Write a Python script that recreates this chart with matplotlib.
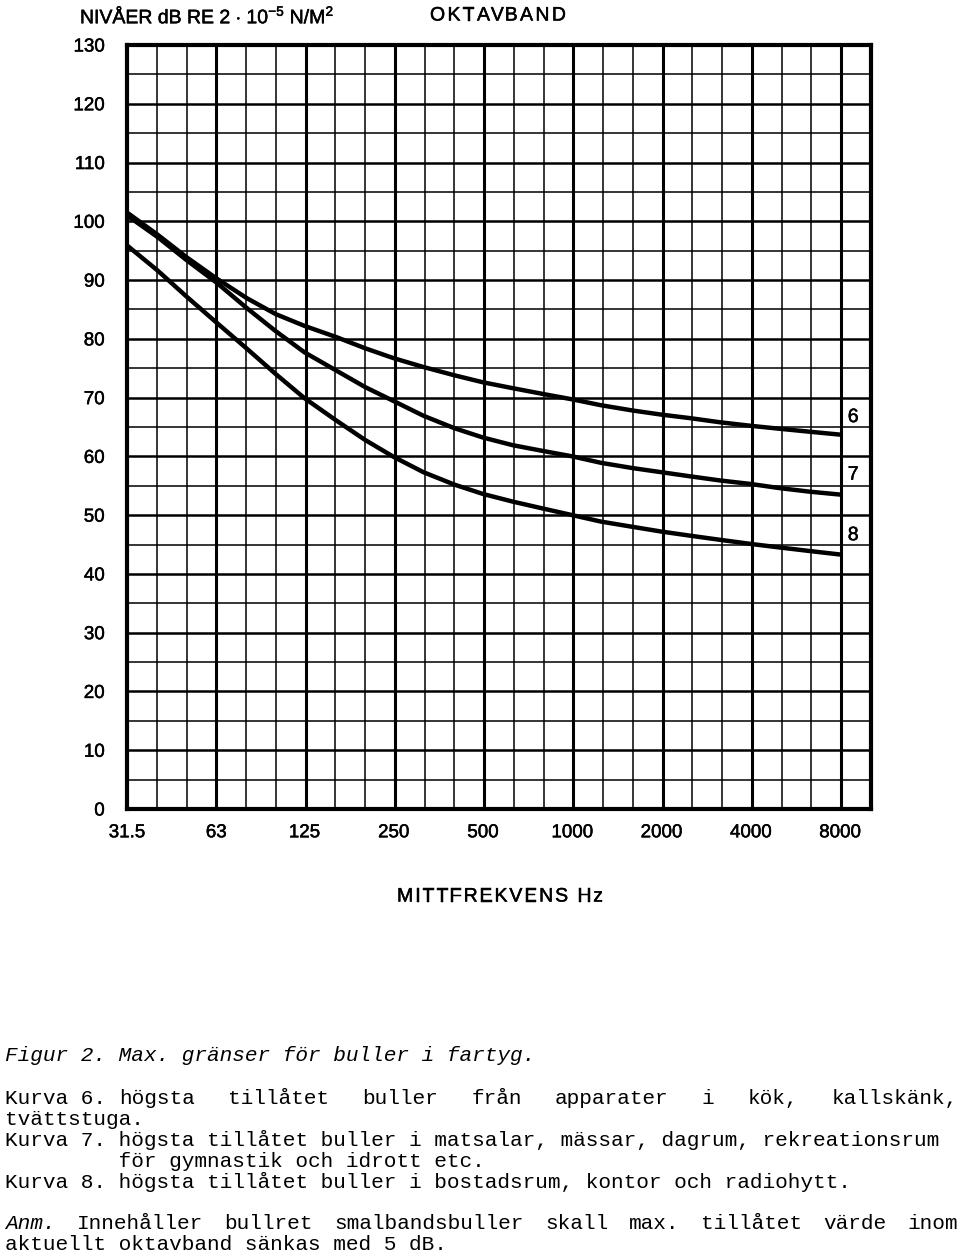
import numpy as np
import matplotlib.pyplot as plt
import matplotlib.patheffects as pe
from matplotlib.ticker import NullLocator, NullFormatter

# --- Data (third-octave positions, dB) ---
freqs = [31.5, 40, 50, 63, 80, 100, 125, 160, 200, 250, 315, 400, 500,
         630, 800, 1000, 1250, 1600, 2000, 2500, 3150, 4000, 5000, 6300, 8000]
kurva6 = [101.5, 97.7, 93.9, 90.3, 86.9, 84.2, 82.2, 80.3, 78.4, 76.7, 75.2, 73.8, 72.6,
          71.6, 70.6, 69.7, 68.7, 67.8, 67.1, 66.5, 65.8, 65.2, 64.7, 64.2, 63.7]
kurva7 = [101.0, 97.3, 93.4, 89.6, 85.2, 81.3, 77.7, 74.6, 71.8, 69.4, 66.9, 64.8, 63.2,
          61.9, 60.9, 60.0, 58.9, 58.0, 57.3, 56.6, 55.9, 55.3, 54.6, 54.0, 53.5]
kurva8 = [95.9, 91.6, 87.2, 82.8, 78.3, 74.0, 69.9, 66.1, 62.8, 59.9, 57.3, 55.2, 53.6,
          52.3, 51.1, 50.0, 48.9, 48.0, 47.2, 46.5, 45.8, 45.1, 44.5, 43.9, 43.3]
octave_ticks = [31.5, 63, 125, 250, 500, 1000, 2000, 4000, 8000]
octave_labels = ['31.5', '63', '125', '250', '500', '1000', '2000', '4000', '8000']
curve_names = ['6', '7', '8']
name_levels = [66.6, 56.8, 46.5]
levels = list(range(0, 131, 10))

plt.rcParams['font.family'] = ['Liberation Sans', 'DejaVu Sans']
plt.rcParams['mathtext.fontset'] = 'custom'
plt.rcParams['mathtext.rm'] = 'Liberation Sans'

# a little heavier than regular, like the printed lettering
heavy = [pe.withStroke(linewidth=0.35, foreground='black')]

W, H = 960, 1253
fig = plt.figure(figsize=(W / 100, H / 100), dpi=100)
ax = fig.add_axes([127 / W, 1 - 809 / H, 744 / W, 764 / H])

# --- Grid: octaves thick, third octaves thin; 10 dB medium, 5 dB thin ---
ax.set_xscale('log')
ax.set_xlim(31.5, 31.5 * 2 ** (25 / 3))
ax.set_ylim(0, 130)

for i in range(1, 25):
    xg = 31.5 * 2 ** (i / 3)
    ax.axvline(xg, color='black', lw=2.2 if i % 3 == 0 else 1.1, zorder=1)
for yg in range(5, 130, 5):
    ax.axhline(yg, color='black', lw=1.8 if yg % 10 == 0 else 1.1, zorder=1)

# --- Curves ---
for vals in (kurva6, kurva7, kurva8):
    ax.plot(freqs, vals, color='black', lw=3.2, solid_capstyle='butt',
            solid_joinstyle='round', zorder=3)

for name, lev in zip(curve_names, name_levels):
    ax.text(8850, lev, name, ha='center', va='center', fontsize=14,
            path_effects=heavy, zorder=4)

# --- Axes styling ---
for sp in ax.spines.values():
    sp.set_linewidth(3.0)
ax.set_xticks(octave_ticks)
ax.set_xticklabels(octave_labels)
ax.xaxis.set_minor_locator(NullLocator())
ax.xaxis.set_minor_formatter(NullFormatter())
ax.set_yticks(levels)
ax.set_yticklabels([str(v) for v in levels])
ax.tick_params(axis='both', length=0, labelsize=13.5)
ax.tick_params(axis='y', pad=16)
ax.tick_params(axis='x', pad=11)
for lab in ax.get_xticklabels() + ax.get_yticklabels():
    lab.set_path_effects(heavy)

renderer = fig.canvas.get_renderer()


def tracked(x0, x1, y, s, size):
    # spread the letters of s so that it spans x0..x1 (pixels)
    probe = fig.text(0, 0, s, fontsize=size)
    natural = probe.get_window_extent(renderer).width
    probe.remove()
    extra = (x1 - x0 - natural) / (len(s) - 1)
    for k, ch in enumerate(s):
        if k:
            p = fig.text(0, 0, s[:k], fontsize=size)
            adv = p.get_window_extent(renderer).width
            p.remove()
        else:
            adv = 0
        fig.text((x0 + adv + k * extra) / W, 1 - y / H, ch, ha='left', va='center',
                 fontsize=size, path_effects=heavy)


# --- Headings ---
fig.text(80 / W, 1 - 16 / H,
         r'NIVÅER dB RE 2 $\cdot$ 10$^{\mathregular{-5}}$ N/M$^{\mathregular{2}}$',
         ha='left', va='center', fontsize=14, path_effects=heavy)
tracked(430, 566, 16, 'OKTAVBAND', 14)
tracked(397, 603, 897, 'MITTFREKVENS Hz', 14)

# --- Caption (monospace, justified like the typewritten original) ---
mono = 'Liberation Mono'
fs = 15.2
cw = 0.6 * fs * 100 / 72  # char advance in px


def put(x, y, s, style='normal'):
    fig.text(x / W, 1 - y / H, s, ha='left', va='baseline',
             family=mono, fontsize=fs, style=style)


def justify(words, x0, x1, y, styles=None):
    nchar = sum(len(w) for w in words)
    gap = (x1 - x0 - nchar * cw) / (len(words) - 1)
    x = x0
    for k, w in enumerate(words):
        put(x, y, w, styles[k] if styles else 'normal')
        x += len(w) * cw + gap


put(5, 1061, 'Figur 2. Max. gränser för buller i fartyg.', style='italic')
put(5, 1104, 'Kurva 6.')
justify(['högsta', 'tillåtet', 'buller', 'från', 'apparater', 'i', 'kök,', 'kallskänk,'],
        5 + 9 * cw, 958, 1104)
put(5, 1125, 'tvättstuga.')
put(5, 1146, 'Kurva 7. högsta tillåtet buller i matsalar, mässar, dagrum, rekreationsrum')
put(5, 1167, '         för gymnastik och idrott etc.')
put(5, 1188, 'Kurva 8. högsta tillåtet buller i bostadsrum, kontor och radiohytt.')
anm = ['Anm.', 'Innehåller', 'bullret', 'smalbandsbuller', 'skall', 'max.', 'tillåtet', 'värde', 'inom']
justify(anm, 5, 958, 1229, styles=['italic'] + ['normal'] * 8)
put(5, 1250, 'aktuellt oktavband sänkas med 5 dB.')

fig.savefig('out.png', dpi=100, facecolor='white')
